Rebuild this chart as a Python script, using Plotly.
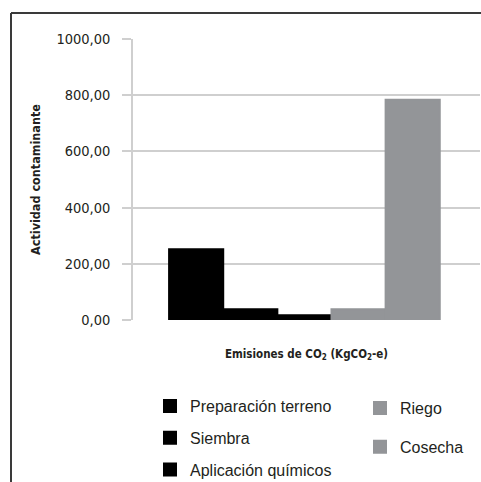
import plotly.graph_objects as go

# Emission sources and their values (kg CO2-e)
categorias = ["Preparación terreno", "Siembra", "Aplicación químicos", "Riego", "Cosecha"]
valores = [252, 38, 17, 38, 784]
colores = ["#000000", "#000000", "#000000", "#939598", "#939598"]
leyendas = ["legend", "legend", "legend", "legend2", "legend2"]
grupo_x = ["Emisiones"]

COND = "DejaVu Sans Condensed, Roboto, sans-serif"
TEXT = "#231f20"

fig = go.Figure()
for nombre, valor, color, leg in zip(categorias, valores, colores, leyendas):
    fig.add_trace(go.Bar(
        x=grupo_x, y=[valor], name=nombre,
        marker=dict(color=color, line=dict(color=color, width=2)),
        legend=leg, legendgroup=nombre,
    ))

W, H = 481, 482
ml, mr, mt, mb = 133, 1, 39, 162
pw, ph = W - ml - mr, H - mt - mb

def px(x):
    return (x - ml) / pw

def py(y):
    return (H - mb - y) / ph

fig.update_layout(
    width=W, height=H,
    margin=dict(l=ml, r=mr, t=mt, b=mb, autoexpand=False),
    paper_bgcolor="white", plot_bgcolor="white",
    separators=",.",
    barmode="group", bargap=0.22,
    font=dict(family="Liberation Sans", color=TEXT),
    showlegend=True,
    legend=dict(
        x=px(150), y=py(389), xanchor="left", yanchor="top",
        font=dict(size=16, family="Liberation Sans", color=TEXT),
        tracegroupgap=8, traceorder="grouped", bgcolor="rgba(0,0,0,0)",
    ),
    legend2=dict(
        x=px(360), y=py(391), xanchor="left", yanchor="top",
        font=dict(size=16, family="Liberation Sans", color=TEXT),
        tracegroupgap=15, traceorder="grouped", bgcolor="rgba(0,0,0,0)",
    ),
    xaxis=dict(
        type="category", range=[-0.494, 0.506], automargin=False,
        showticklabels=False, showgrid=False, zeroline=False,
        showline=False, ticks="",
        title=dict(
            text="<b>Emisiones de CO<sub>2</sub> (KgCO<sub>2</sub>-e)</b>",
            font=dict(size=11.5, family=COND, color=TEXT),
            standoff=29,
        ),
    ),
    yaxis=dict(
        range=[0, 1000], dtick=200, tickformat=".2f", automargin=False,
        showgrid=True, gridcolor="#cfcfcf", gridwidth=1.5,
        zeroline=False,
        showline=True, linecolor="#cfcfcf", linewidth=1.5,
        ticks="outside", ticklen=9, tickcolor="#cfcfcf", tickwidth=1.5,
        ticklabelstandoff=9,
        tickfont=dict(size=14.5, family=COND, color=TEXT),
        title=dict(
            text="<b>Actividad contaminante</b>",
            font=dict(size=12.5, family=COND, color=TEXT),
            standoff=13,
        ),
    ),
    shapes=[
        dict(type="line", xref="paper", yref="paper",
             x0=px(11), x1=px(520), y0=py(13), y1=py(13),
             line=dict(color="#3a3a3a", width=2)),
        dict(type="line", xref="paper", yref="paper",
             x0=px(11), x1=px(11), y0=py(13), y1=py(520),
             line=dict(color="#3a3a3a", width=2)),
    ],
)

fig.write_html("out.html")
